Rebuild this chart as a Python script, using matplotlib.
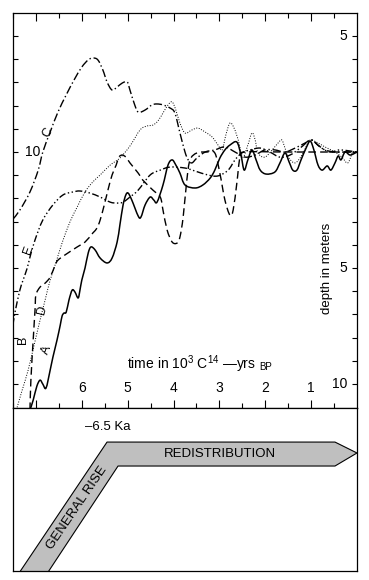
import matplotlib
matplotlib.use("Agg")
import numpy as np
import matplotlib.pyplot as plt
from matplotlib.patches import Polygon, PathPatch
from matplotlib.path import Path
from matplotlib.transforms import blended_transform_factory

plt.rcParams['font.family'] = ['Liberation Sans', 'DejaVu Sans']
plt.rcParams['mathtext.fontset'] = 'custom'
plt.rcParams['mathtext.rm'] = 'Liberation Sans'
plt.rcParams['mathtext.default'] = 'regular'

# ---------------- data (time in 10^3 C14 yrs BP, depth in m; negative = above) ----
A_t = [7.13, 7.06, 6.98, 6.91, 6.85, 6.78, 6.69, 6.63, 6.54, 6.47, 6.43, 6.39, 6.34,
       6.28, 6.21, 6.15, 6.08, 6.04, 6.00, 5.93, 5.86, 5.80, 5.71, 5.60, 5.45, 5.34,
       5.23, 5.17, 5.10, 5.04, 4.99, 4.91, 4.77, 4.71, 4.62, 4.51, 4.43, 4.36, 4.23,
       4.12, 4.03, 3.95, 3.86, 3.75, 3.53, 3.36, 3.20, 3.10, 2.99, 2.88, 2.77, 2.62,
       2.53, 2.46, 2.38, 2.29, 2.20, 2.11, 1.98, 1.79, 1.68, 1.57, 1.48, 1.40, 1.31,
       1.22, 1.11, 1.02, 0.94, 0.85, 0.76, 0.65, 0.57, 0.48, 0.41, 0.35, 0.26, 0.15, 0.00]
A_d = [11.12, 10.69, 10.09, 9.83, 10.00, 10.17, 9.40, 8.84, 8.10, 7.46, 7.07, 6.94, 6.90,
       6.38, 5.95, 6.03, 6.29, 5.95, 5.52, 5.00, 4.35, 4.09, 4.22, 4.57, 4.78, 4.57,
       3.88, 3.15, 2.28, 1.85, 1.77, 2.07, 2.76, 2.80, 2.28, 1.94, 2.07, 2.16, 1.42,
       0.56, 0.34, 0.56, 0.91, 1.42, 1.55, 1.42, 1.12, 0.78, 0.26, -0.09, -0.30, -0.43,
       0.13, 0.78, 0.34, -0.09, 0.34, 0.78, 0.95, 0.86, 0.47, 0.04, 0.43, 0.78, 0.78,
       0.34, -0.17, -0.47, -0.09, 0.56, 0.78, 0.60, 0.78, 0.47, 0.17, 0.34, 0.00, 0.13, 0.00]

B_t = [7.13, 7.11, 7.06, 7.02, 7.00, 6.91, 6.80, 6.69, 6.58, 6.52, 6.37, 6.10, 5.93,
       5.76, 5.67, 5.60, 5.51, 5.43, 5.34, 5.25, 5.19, 5.12, 5.04, 4.95, 4.77, 4.67,
       4.45, 4.29, 4.23, 4.14, 4.03, 3.92, 3.86, 3.79, 3.71, 3.64, 3.49, 3.27, 3.10,
       2.99, 2.88, 2.77, 2.70, 2.62, 2.55, 2.44, 1.50, 0.00]
B_d = [11.12, 9.83, 8.10, 6.81, 6.16, 5.82, 5.65, 5.39, 4.87, 4.66, 4.44, 4.09, 3.88,
       3.49, 3.28, 2.93, 2.28, 1.64, 0.99, 0.56, 0.22, 0.13, 0.22, 0.47, 0.91, 1.21,
       1.64, 1.94, 2.50, 3.36, 3.88, 3.92, 3.66, 2.80, 1.21, 0.34, 0.04, 0.00, 0.04,
       0.91, 2.07, 2.72, 2.50, 1.34, 0.22, 0.00, 0.00, 0.00]

C_t = [7.50, 7.35, 7.13, 6.95, 6.85, 6.69, 6.52, 6.34, 6.17, 6.00, 5.86, 5.76, 5.65,
       5.54, 5.45, 5.34, 5.23, 5.12, 5.01, 4.95, 4.86, 4.77, 4.62, 4.47, 4.36, 4.23,
       4.08, 3.97, 3.86, 3.75, 3.68, 3.60, 3.49, 3.31, 3.10, 2.88, 2.66, 2.44, 2.22,
       2.01, 1.79, 1.57, 1.35, 1.13, 1.00, 0.85, 0.70, 0.48, 0.26, 0.00]
C_d = [2.89, 2.50, 1.72, 0.78, 0.00, -0.86, -1.72, -2.46, -3.10, -3.66, -3.97, -4.05, -3.97,
       -3.53, -3.02, -2.67, -2.80, -2.97, -3.02, -2.67, -2.11, -1.72, -1.81, -2.03, -2.07, -2.03,
       -1.90, -1.68, -0.82, 0.00, 0.34, 0.47, 0.26, 0.00, -0.09, -0.22, 0.00, 0.22, 0.13,
       -0.09, -0.09, 0.00, -0.17, -0.39, -0.52, -0.30, -0.09, 0.00, 0.00, 0.00]

D_t = [7.41, 7.30, 7.17, 7.04, 6.91, 6.80, 6.69, 6.56, 6.43, 6.26, 6.10, 5.93, 5.76,
       5.60, 5.38, 5.17, 4.95, 4.73, 4.58, 4.45, 4.34, 4.23, 4.12, 4.03, 3.95, 3.86,
       3.75, 3.60, 3.47, 3.31, 3.16, 3.03, 2.94, 2.86, 2.77, 2.68, 2.59, 2.49, 2.38,
       2.29, 2.22, 2.16, 2.01, 1.85, 1.72, 1.64, 1.57, 1.50, 1.35, 1.20, 1.07, 1.00,
       0.85, 0.70, 0.48, 0.33, 0.20, 0.09, 0.00]
D_d = [11.00, 10.26, 9.40, 8.32, 7.24, 6.38, 5.52, 4.74, 3.92, 3.02, 2.37, 1.72, 1.29,
       0.99, 0.56, 0.26, -0.26, -0.95, -1.12, -1.16, -1.34, -1.68, -2.03, -2.16, -1.81, -1.25,
       -0.82, -0.95, -1.03, -0.86, -0.65, -0.30, -0.09, -0.73, -1.25, -1.03, -0.52, 0.22, -0.30,
       -0.82, -0.52, 0.04, 0.22, -0.09, -0.39, -0.52, -0.17, 0.22, 0.47, 0.13, -0.39, -0.52,
       -0.39, -0.22, 0.00, 0.22, 0.47, 0.00, 0.00]

E_t = [7.50, 7.46, 7.35, 7.28, 7.19, 7.13, 7.02, 6.85, 6.63, 6.41, 6.19, 6.04, 5.82,
       5.60, 5.38, 5.23, 5.10, 4.95, 4.77, 4.51, 4.29, 4.08, 3.75, 3.53, 3.25, 3.03,
       2.81, 2.66, 2.51, 2.33, 2.11, 1.90, 1.68, 1.46, 1.24, 1.00, 0.81, 0.59, 0.37, 0.00]
E_d = [7.46, 6.94, 5.95, 5.52, 5.00, 4.53, 3.79, 2.93, 2.28, 1.85, 1.72, 1.68, 1.77,
       1.94, 2.16, 2.20, 2.16, 1.94, 1.64, 0.99, 0.78, 0.65, 0.69, 0.82, 0.99, 1.03,
       0.78, 0.34, 0.04, -0.09, -0.17, 0.00, 0.22, 0.13, -0.17, -0.52, -0.22, 0.00, -0.09, 0.00]

curve_names = ["A", "B", "C", "D", "E"]
label_pos_t = [6.76, 7.28, 6.74, 6.87, 7.17]
label_pos_d = [8.53, 8.10, -0.82, 6.81, 4.22]
label_rot = [68, 90, 62, 75, 70]

x_major = [1, 2, 3, 4, 5, 6, 7]
x_minor = [0.5, 1.5, 2.5, 3.5, 4.5, 5.5, 6.5, 7.5]
x_labels = ["1", "2", "3", "4", "5", "6"]
y_ticks = list(range(-5, 11))
right_labels = [(-5, "5"), (5, "5"), (10, "10")]
left_labels = [(0, "10")]

stage_labels = ["GENERAL RISE", "REDISTRIBUTION"]
stage_break = "\u20136.5 Ka"


def smooth_path(t, d):
    """Smooth (Catmull-Rom -> cubic Bezier) path through the read points."""
    p = np.column_stack([t, d]).astype(float)
    verts = [p[0]]
    codes = [Path.MOVETO]
    n = len(p)
    for i in range(n - 1):
        p0 = p[i - 1] if i > 0 else p[i]
        p1, p2 = p[i], p[i + 1]
        p3 = p[i + 2] if i + 2 < n else p[i + 1]
        verts += [p1 + (p2 - p0) / 6.0, p2 - (p3 - p1) / 6.0, p2]
        codes += [Path.CURVE4] * 3
    return Path(verts, codes)


# ---------------- figure ----------------
W, H = 369, 580
fig = plt.figure(figsize=(W / 100, H / 100), dpi=100)
ax = fig.add_axes([13 / W, 1 - 408 / H, 344 / W, 395 / H])
ax2 = fig.add_axes([13 / W, 1 - 571 / H, 344 / W, 163 / H])

ax.set_xlim(7.5, 0)
ax.set_ylim(11.03, -5.99)

styles = [
    (A_t, A_d, 1.1, (0, None)),
    (B_t, B_d, 1.0, (0, (5.5, 3))),
    (C_t, C_d, 1.0, (0, (6, 2, 1, 2))),
    (D_t, D_d, 0.7, (0, (1, 1.6))),
    (E_t, E_d, 1.0, (0, (5, 1.8, 1, 1.8, 1, 1.8))),
]
for tt, dd, w, ls in styles:
    patch = PathPatch(smooth_path(tt, dd), fill=False, edgecolor="black", lw=w,
                      linestyle="-" if ls[1] is None else ls,
                      joinstyle="round", capstyle="butt", clip_on=True)
    ax.add_patch(patch)

for n, tt, dd, r in zip(curve_names, label_pos_t, label_pos_d, label_rot):
    ax.text(tt, dd, n, rotation=r, fontsize=9, ha="center", va="center")

# ticks
ax.set_xticks(x_major)
ax.set_xticks(x_minor, minor=True)
ax.set_yticks(y_ticks)
ax.set_yticks([], minor=True)
ax.tick_params(axis="x", which="major", direction="in", length=6, width=0.8,
               top=True, bottom=True, labelbottom=False, labeltop=False)
ax.tick_params(axis="x", which="minor", direction="in", length=3.5, width=0.8,
               top=True, bottom=True)
ax.tick_params(axis="y", which="major", direction="in", length=3.8, width=0.8,
               left=True, right=True, labelleft=False, labelright=False)
for s in ax.spines.values():
    s.set_linewidth(0.9)

tr_xd = blended_transform_factory(ax.transData, ax.transAxes)
for v, lab in zip(x_major, x_labels):
    ax.text(v, 0.051, lab, transform=tr_xd, ha="center", va="center", fontsize=10)

tr_ad = blended_transform_factory(ax.transAxes, ax.transData)
for v, lab in right_labels:
    ax.text(0.971, v, lab, transform=tr_ad, ha="right", va="center", fontsize=10)
for v, lab in left_labels:
    ax.text(0.035, v, lab, transform=tr_ad, ha="left", va="center", fontsize=10)

ax.text(0.913, 5.0, "depth in meters", transform=tr_ad, rotation=90,
        ha="center", va="center", fontsize=9.5)

t1 = ax.text(5.01, 9.35, "time in 10$^3$ C$^{14}$ \u2014yrs",
             ha="left", va="baseline", fontsize=10)
ax.annotate("BP", xy=(1, 0), xycoords=t1, xytext=(2, 2.2), textcoords="offset points",
            ha="left", va="bottom", fontsize=7)

# ---------------- bottom panel ----------------
ax2.set_xlim(7.5, 0)
ax2.set_ylim(0, 1)
ax2.set_xticks([])
ax2.set_yticks([])
for s in ax2.spines.values():
    s.set_linewidth(0.9)

band_t = [7.41, 5.45, 0.48, 0.0, 0.48, 5.21, 6.79]
band_y = [-0.03, 0.791, 0.791, 0.724, 0.644, 0.644, -0.03]
poly = Polygon(list(zip(band_t, band_y)), closed=True, facecolor="#bfbfbf",
               edgecolor="black", lw=0.8)
ax2.add_patch(poly)

ax2.text(5.93, 0.883, stage_break, ha="left", va="center", fontsize=9.5)
ax2.text(2.99, 0.718, stage_labels[1], ha="center", va="center", fontsize=9.5)
ax2.text(6.10, 0.387, stage_labels[0], ha="center", va="center", fontsize=9.5,
         rotation=55.8, rotation_mode="anchor")

fig.savefig("out.png", dpi=100)
